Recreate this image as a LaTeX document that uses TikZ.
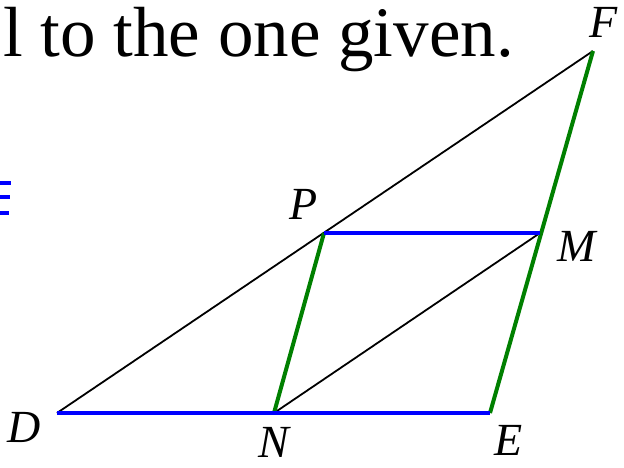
\documentclass[tikz,border=0pt]{standalone}
\usepackage{fontspec}
\setmainfont{Liberation Serif}
\begin{document}
\begin{tikzpicture}[x=1pt,y=-1pt,
  thinline/.style={black,line width=1.8pt},
  blueline/.style={blue,line width=4.5pt},
  greenline/.style={green!50!black,line width=4pt},
  ptlabel/.style={inner sep=0pt,font=\fontsize{46}{50}\selectfont\itshape},
  bigtext/.style={inner sep=0pt,anchor=base west,font=\fontsize{71}{80}\selectfont}]
\useasboundingbox (0,0) rectangle (624,468);
\coordinate (D) at (57,413);
\coordinate (N) at (274,413);
\coordinate (E) at (490,413);
\coordinate (F) at (593,51);
\coordinate (P) at (324,233);
\coordinate (M) at (540,233);
\node[bigtext] (title) at (3,57) {l to the one given.};
\draw[thinline] (D) -- (F);
\draw[thinline] (N) -- (M);
\draw[greenline] (N) -- (P);
\draw[greenline] (E) -- (F);
\draw[blueline] (D) -- (E);
\draw[blueline] (P) -- (M);
\coordinate (b1) at (0,183);
\coordinate (b2) at (0,197);
\coordinate (b3) at (0,213);
\draw[blueline] (b1) -- ++(11,0);
\draw[blueline] (b2) -- ++(10,0);
\draw[blueline] (b3) -- ++(9,0);
\node[ptlabel] (lD) at (24,427) {D};
\node[ptlabel] (lN) at (274,442) {N};
\node[ptlabel] (lE) at (509,440) {E};
\node[ptlabel] (lP) at (304,204) {P};
\node[ptlabel] (lM) at (577,246) {M};
\node[ptlabel] (lF) at (604,22) {F};
\end{tikzpicture}
\end{document}
